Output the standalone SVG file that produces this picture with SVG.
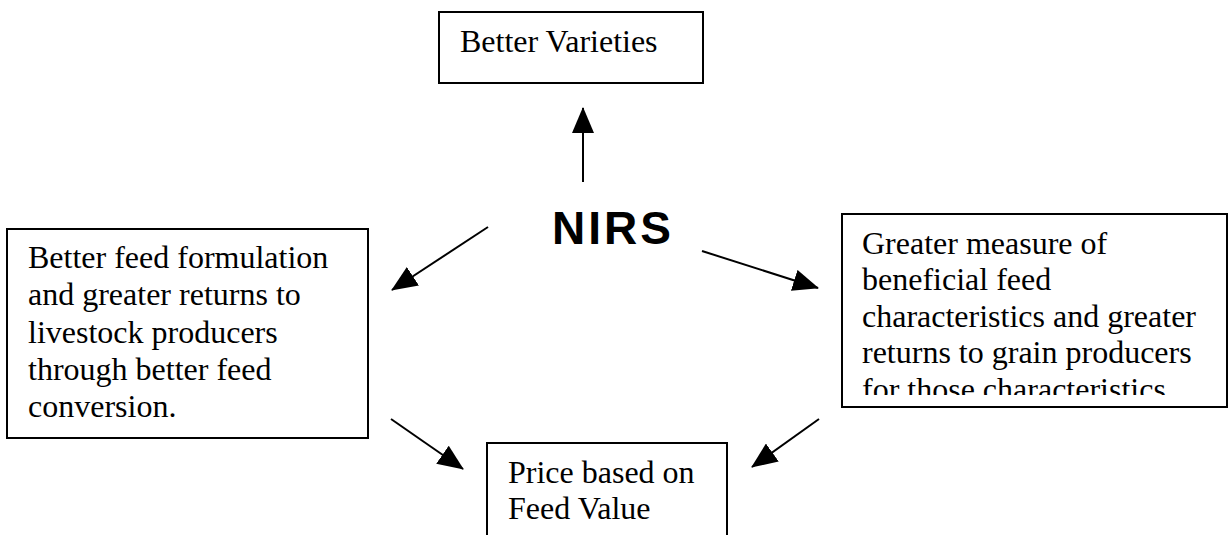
<svg xmlns="http://www.w3.org/2000/svg" width="1229" height="535" viewBox="0 0 1229 535">
<style>
.box{fill:#fff;stroke:#000;stroke-width:2}
.t{font-family:"Liberation Serif","Times New Roman",serif;font-size:32px;fill:#000}
.c{stroke:#000;stroke-width:2;fill:none;marker-end:url(#ah)}
</style>
<defs>
<marker id="ah" markerUnits="userSpaceOnUse" markerWidth="26" markerHeight="22" viewBox="0 0 26 22" refX="25" refY="11" orient="auto">
<path d="M0,0 L26,11 L0,22 Z" fill="#000"/>
</marker>
<clipPath id="clipR"><rect x="843" y="215" width="386" height="180"/></clipPath>
</defs>
<rect width="1229" height="535" fill="#fff"/>
<g id="connectors">
<line class="c" x1="583" y1="182" x2="583" y2="108"/>
<line class="c" x1="488" y1="227" x2="392" y2="290"/>
<line class="c" x1="702" y1="251" x2="818" y2="288"/>
<line class="c" x1="391" y1="419" x2="463" y2="469"/>
<line class="c" x1="819" y1="419" x2="752" y2="467"/>
</g>
<g id="better-varieties">
<rect class="box" x="439" y="12" width="264" height="71"/>
<text class="t" x="460" y="52">Better Varieties</text>
</g>
<g id="nirs">
<text x="552" y="244" font-family="Liberation Sans,Arial,sans-serif" font-weight="bold" font-size="46" letter-spacing="3">NIRS</text>
</g>
<g id="left-box">
<rect class="box" x="7" y="229" width="361" height="209"/>
<text class="t" x="28" y="268">Better feed formulation</text>
<text class="t" x="28" y="305">and greater returns to</text>
<text class="t" x="28" y="343">livestock producers</text>
<text class="t" x="28" y="380">through better feed</text>
<text class="t" x="28" y="417">conversion.</text>
</g>
<g id="right-box">
<rect class="box" x="842" y="214" width="385" height="193"/>
<g clip-path="url(#clipR)">
<text class="t" x="862" y="254">Greater measure of</text>
<text class="t" x="862" y="290">beneficial feed</text>
<text class="t" x="862" y="327">characteristics and greater</text>
<text class="t" x="862" y="363">returns to grain producers</text>
<text class="t" x="862" y="400">for those characteristics</text>
</g>
</g>
<g id="price-box">
<rect class="box" x="487" y="443" width="240" height="100"/>
<text class="t" x="508" y="483">Price based on</text>
<text class="t" x="508" y="519">Feed Value</text>
</g>
</svg>
